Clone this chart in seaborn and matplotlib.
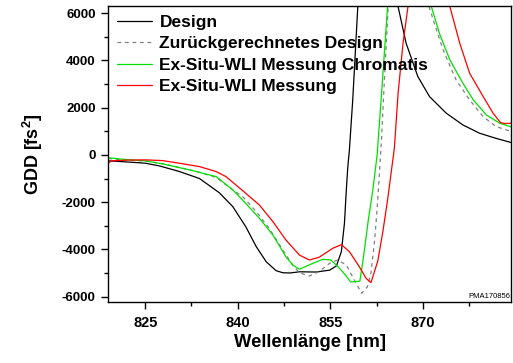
"""
GDD-Kurven: Design, zurueckgerechnetes Design und Ex-Situ-WLI Messungen
"""

# ==========================
# IMPORTS
# ==========================

import matplotlib

matplotlib.use("Agg")

import matplotlib.pyplot as plt
import pandas as pd
import seaborn as sns
from matplotlib.ticker import MultipleLocator


# ==========================
# DATEN
# ==========================

design_nm = [819, 821, 825, 827.3, 830.5, 833.8, 837, 839.2, 841.3, 843,
             844.6, 846.2, 847.3, 848.5, 850, 852.7, 854.9, 856, 856.8,
             857.3, 857.6, 857.85, 858.1, 858.65, 859.45, 860, 865.5, 866,
             867.3, 869.2, 871.1, 873.8, 876.5, 879.2, 881.9, 884.4]
design_gdd = [-250, -280, -350, -466, -700, -1000, -1600, -2190, -3040, -3885,
              -4520, -4900, -4990, -5000, -4950, -4960, -4880, -4700, -4100,
              -2900, -1500, -500, 200, 2350, 6200, 9000, 9000, 6280,
              4730, 3320, 2470, 1770, 1270, 920, 700, 520]

rueck_nm = [819, 822, 825, 828, 832.7, 836.5, 839, 840.8, 843, 845.1,
            847.3, 848.9, 850, 851.6, 853.2, 854.9, 856.2, 857.6, 858.9,
            860.1, 861, 861.6, 862.2, 862.6, 863.3, 863.8, 864.4, 865,
            870.5, 871, 871.7, 873.3, 875.4, 877.6, 879.8, 881.9, 884.4]
rueck_gdd = [-150, -220, -260, -380, -660, -950, -1450, -1765, -2400, -3110,
             -4025, -4660, -4990, -5130, -4940, -4590, -4450, -4660, -5300,
             -5860, -5600, -5000, -3600, -2300, 600, 3300, 6300, 9000,
             9000, 6300, 5720, 4450, 3180, 2330, 1620, 1200, 990]

chromatis_nm = [819, 822, 825, 827.8, 832.7, 836.5, 839.2, 841.3, 843.5,
                845.7, 847.8, 848.9, 850, 852.2, 853.8, 855.1, 856.5, 857.5,
                858.3, 859.8, 860.4, 861.2, 861.9, 862.6, 863.4, 864.3,
                864.8, 870.9, 871.4, 872.7, 874.4, 876.5, 878.2, 880.3,
                882.5, 884.4]
chromatis_gdd = [-120, -200, -250, -380, -665, -920, -1480, -2050, -2680,
                 -3390, -4310, -4660, -4840, -4590, -4420, -4450, -4800,
                 -5100, -5380, -5350, -4300, -2700, -1500, 0, 2900, 6300,
                 9000, 9000, 6280, 5150, 4025, 3040, 2330, 1695,
                 1340, 1180]

messung_nm = [819, 819.5, 822, 825, 827.8, 830.5, 833.8, 836.5, 838.1,
              841.3, 843.5, 845.7, 847.8, 850, 851.6, 853.2, 855.4, 856.8,
              858.1, 859.7, 860.8, 861.6, 862.7, 863.5, 864.3, 865, 865.4,
              866, 866.8, 867.6, 868.2, 873.9, 874.4, 876, 877.6, 879.8,
              881.4, 882.6, 883.3, 884.4]
messung_gdd = [-350, -250, -220, -210, -240, -350, -495, -705, -920,
               -1625, -2120, -2825, -3600, -4240, -4450, -4335, -3955, -3800,
               -4095, -4730, -5225, -5410, -4500, -3300, -1900, -500, 300,
               2610, 4730, 6280, 9000, 9000, 6280, 4730, 3460, 2470,
               1770, 1370, 1330, 1340]

SERIEN = [
    "Design",
    "Zurückgerechnetes Design",
    "Ex-Situ-WLI Messung Chromatis",
    "Ex-Situ-WLI Messung",
]

FARBEN = {
    "Design": "#000000",
    "Zurückgerechnetes Design": "#808080",
    "Ex-Situ-WLI Messung Chromatis": "#00e000",
    "Ex-Situ-WLI Messung": "#ff0000",
}

STRICHE = {
    "Design": "",
    "Zurückgerechnetes Design": (3, 3),
    "Ex-Situ-WLI Messung Chromatis": "",
    "Ex-Situ-WLI Messung": "",
}


# ==========================
# TABELLE
# ==========================

def daten_tabelle():

    teile = []
    for name, nm, gdd in zip(
        SERIEN,
        [design_nm, rueck_nm, chromatis_nm, messung_nm],
        [design_gdd, rueck_gdd, chromatis_gdd, messung_gdd],
    ):
        teile.append(pd.DataFrame({"nm": nm, "gdd": gdd, "serie": name}))

    return pd.concat(teile, ignore_index=True)


# ==========================
# GRAFIK
# ==========================

def grafik(df):

    sns.set_style("ticks")
    plt.rcParams["font.family"] = ["Liberation Sans", "DejaVu Sans"]
    plt.rcParams["font.weight"] = "bold"
    plt.rcParams["text.color"] = "black"
    plt.rcParams["axes.labelcolor"] = "black"
    plt.rcParams["xtick.color"] = "black"
    plt.rcParams["ytick.color"] = "black"
    plt.rcParams["axes.unicode_minus"] = False
    plt.rcParams["mathtext.fontset"] = "custom"
    plt.rcParams["mathtext.bf"] = "Liberation Sans:bold"
    plt.rcParams["mathtext.rm"] = "Liberation Sans:bold"

    fig = plt.figure(figsize=(5.13, 3.63), dpi=100)
    ax = fig.add_axes([0.211, 0.168, 0.785, 0.815])

    sns.lineplot(
        data=df,
        x="nm",
        y="gdd",
        hue="serie",
        style="serie",
        hue_order=SERIEN,
        style_order=SERIEN,
        palette=FARBEN,
        dashes=STRICHE,
        estimator=None,
        sort=False,
        linewidth=0.9,
        ax=ax,
    )

    ax.set_xlim(819, 884.3)
    ax.set_ylim(-6230, 6300)

    ax.xaxis.set_major_locator(MultipleLocator(15))
    ax.xaxis.set_minor_locator(MultipleLocator(7.5))
    ax.yaxis.set_major_locator(MultipleLocator(2000))
    ax.yaxis.set_minor_locator(MultipleLocator(1000))

    ax.tick_params(which="major", direction="out", length=5, width=1,
                   color="black", labelcolor="black")
    ax.tick_params(which="minor", direction="out", length=3, width=1,
                   color="black")
    ax.tick_params(axis="x", labelsize=10.5, pad=5)
    ax.tick_params(axis="y", labelsize=9.5, pad=4)

    for spine in ax.spines.values():
        spine.set_color("black")
        spine.set_linewidth(1.0)

    ax.set_xlabel("Wellenlänge [nm]", fontsize=13.3, fontweight="bold",
                  labelpad=3)
    ax.set_ylabel(r"GDD [fs$^\mathbf{2}$]", fontsize=13, fontweight="bold",
                  labelpad=12)

    handles, labels = ax.get_legend_handles_labels()
    ax.legend(
        handles,
        labels,
        loc="upper left",
        frameon=False,
        prop={"size": 12.5, "weight": "bold"},
        handlelength=2.0,
        handletextpad=0.45,
        labelspacing=0.36,
        borderaxespad=0.2,
        borderpad=0.3,
    )

    ax.text(0.998, 0.008, "PMA170856", transform=ax.transAxes,
            ha="right", va="bottom", fontsize=5.5, fontweight="normal")

    fig.savefig("out.png", dpi=100)


# ==========================
# EXECUTION
# ==========================

def main():
    df = daten_tabelle()
    grafik(df)


if __name__ == "__main__":
    main()
